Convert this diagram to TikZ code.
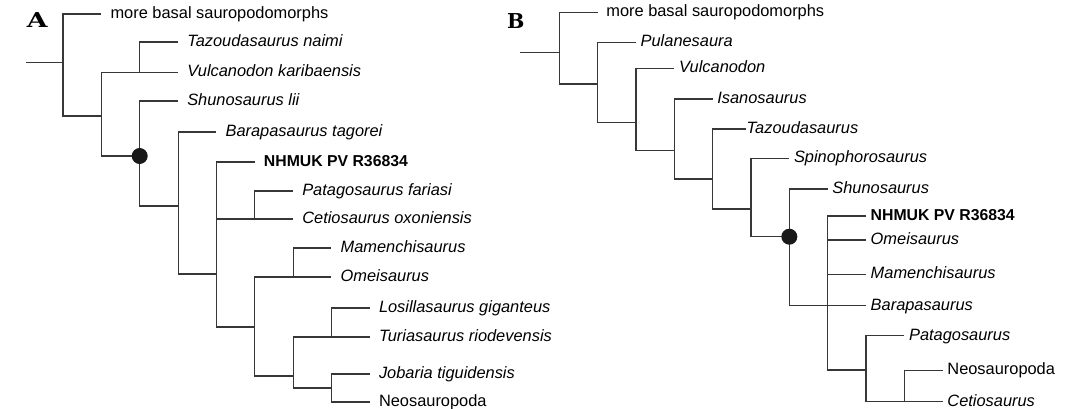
\documentclass[tikz,border=0pt]{standalone}
\usepackage{fontspec}
\newfontfamily\taxfont{Liberation Sans}
\newfontfamily\panelfont{DejaVu Serif}
\definecolor{linecol}{RGB}{55,55,55}
\tikzset{
  br/.style={draw=linecol, line width=1.1pt},
  tipA/.style={anchor=west, inner xsep=9pt, inner ysep=0pt, text height=12pt, text depth=3.2pt, font=\taxfont\fontsize{16.4}{18}\selectfont},
  tipB/.style={tipA, inner xsep=4.5pt},
  holo/.style={font=\taxfont\bfseries\fontsize{15.8}{18}\selectfont},
  panel/.style={anchor=base west, inner sep=0pt, font=\panelfont\bfseries\fontsize{20.5}{24}\selectfont},
  dot/.style={fill=black!90}
}
\begin{document}
\begin{tikzpicture}[x=1pt,y=-1pt]
\useasboundingbox (0,0) rectangle (1081,409);
% panel labels
\node[panel, xscale=1.3] (labA) at (26.5,28) {A};
\node[panel] (labB) at (507,28.3) {B};

% ---------- Tree A ----------
\coordinate (aR) at (26,62.7);
\coordinate (a0) at (63,62.7);
\coordinate (a1) at (101.35,116);
\coordinate (a2) at (139.7,72.5);
\coordinate (a3) at (139.7,156);
\coordinate (a4) at (178.05,206);
\coordinate (a5) at (216.4,274);
\coordinate (a6) at (254.75,219);
\coordinate (a7) at (254.75,327);
\coordinate (a8) at (293.1,277);
\coordinate (a9) at (293.1,376);
\coordinate (a10) at (331.45,337);
\coordinate (a11) at (331.45,388);

\node[tipA] (tA0) at (101.35,14) {more basal sauropodomorphs};
\node[tipA] (tA1) at (178.05,42) {\itshape Tazoudasaurus naimi};
\node[tipA] (tA2) at (178.05,72.5) {\itshape Vulcanodon karibaensis};
\node[tipA] (tA3) at (178.05,101) {\itshape Shunosaurus lii};
\node[tipA] (tA4) at (216.4,132) {\itshape Barapasaurus tagorei};
\node[tipA, holo] (tA5) at (254.75,162) {NHMUK PV R36834};
\node[tipA] (tA6) at (293.1,191) {\itshape Patagosaurus fariasi};
\node[tipA] (tA7) at (293.1,219) {\itshape Cetiosaurus oxoniensis};
\node[tipA] (tA8) at (331.45,248) {\itshape Mamenchisaurus};
\node[tipA] (tA9) at (331.45,277) {\itshape Omeisaurus};
\node[tipA] (tA10) at (369.8,308) {\itshape Losillasaurus giganteus};
\node[tipA] (tA11) at (369.8,337) {\itshape Turiasaurus riodevensis};
\node[tipA] (tA12) at (369.8,374) {\itshape Jobaria tiguidensis};
\node[tipA] (tA13) at (369.8,402) {Neosauropoda};

\draw[br] (aR) -- (a0);
\draw[br] (a0) |- (tA0.west);
\draw[br] (a0) |- (a1);
\draw[br] (a1) |- (a2);
\draw[br] (a1) |- (a3);
\draw[br] (a2) |- (tA1.west);
\draw[br] (a2) |- (tA2.west);
\draw[br] (a3) |- (tA3.west);
\draw[br] (a3) |- (a4);
\draw[br] (a4) |- (tA4.west);
\draw[br] (a4) |- (a5);
\draw[br] (a5) |- (tA5.west);
\draw[br] (a5) |- (a6);
\draw[br] (a5) |- (a7);
\draw[br] (a6) |- (tA6.west);
\draw[br] (a6) |- (tA7.west);
\draw[br] (a7) |- (a8);
\draw[br] (a7) |- (a9);
\draw[br] (a8) |- (tA8.west);
\draw[br] (a8) |- (tA9.west);
\draw[br] (a9) |- (a10);
\draw[br] (a9) |- (a11);
\draw[br] (a10) |- (tA10.west);
\draw[br] (a10) |- (tA11.west);
\draw[br] (a11) |- (tA12.west);
\draw[br] (a11) |- (tA13.west);
\fill[dot] (a3) circle (8);

% ---------- Tree B ----------
\coordinate (bR) at (520,52.3);
\coordinate (b0) at (559.3,52.3);
\coordinate (b1) at (597.64,84);
\coordinate (b2) at (635.98,122.3);
\coordinate (b3) at (674.32,150.7);
\coordinate (b4) at (712.66,179);
\coordinate (b5) at (751.0,209);
\coordinate (b6) at (789.34,236.7);
\coordinate (b7) at (827.68,305.7);
\coordinate (b8) at (866.02,370);
\coordinate (b9) at (904.36,401.7);

\node[tipB, inner xsep=8.5pt] (tB0) at (597.64,12.3) {more basal sauropodomorphs};
\node[tipB] (tB1) at (635.98,42.3) {\itshape Pulanesaura};
\node[tipB] (tB2) at (674.32,68.3) {\itshape Vulcanodon};
\node[tipB] (tB3) at (712.66,99) {\itshape Isanosaurus};
\node[tipB, inner xsep=0.5pt] (tB4) at (746,129) {\itshape Tazoudasaurus};
\node[tipB] (tB5) at (789.34,158.3) {\itshape Spinophorosaurus};
\node[tipB] (tB6) at (827.68,189) {\itshape Shunosaurus};
\node[tipB, holo] (tB7) at (866.02,216) {NHMUK PV R36834};
\node[tipB] (tB8) at (866.02,240) {\itshape Omeisaurus};
\node[tipB] (tB9) at (866.02,274.3) {\itshape Mamenchisaurus};
\node[tipB] (tB10) at (866.02,305.7) {\itshape Barapasaurus};
\node[tipB] (tB11) at (904.36,335.7) {\itshape Patagosaurus};
\node[tipB] (tB12) at (942.7,370.5) {Neosauropoda};
\node[tipB] (tB13) at (942.7,401.7) {\itshape Cetiosaurus};

\draw[br] (bR) -- (b0);
\draw[br] (b0) |- (tB0.west);
\draw[br] (b0) |- (b1);
\draw[br] (b1) |- (tB1.west);
\draw[br] (b1) |- (b2);
\draw[br] (b2) |- (tB2.west);
\draw[br] (b2) |- (b3);
\draw[br] (b3) |- (tB3.west);
\draw[br] (b3) |- (b4);
\draw[br] (b4) |- (tB4.west);
\draw[br] (b4) |- (b5);
\draw[br] (b5) |- (tB5.west);
\draw[br] (b5) |- (b6);
\draw[br] (b6) |- (tB6.west);
\draw[br] (b6) |- (b7);
\draw[br] (b7) |- (tB7.west);
\draw[br] (b7) |- (tB8.west);
\draw[br] (b7) |- (tB9.west);
\draw[br] (b7) |- (tB10.west);
\draw[br] (b7) |- (b8);
\draw[br] (b8) |- (tB11.west);
\draw[br] (b8) |- (b9);
\draw[br] (b9) |- (tB12.west);
\draw[br] (b9) |- (tB13.west);
\fill[dot] (b6) circle (8);
\end{tikzpicture}
\end{document}
